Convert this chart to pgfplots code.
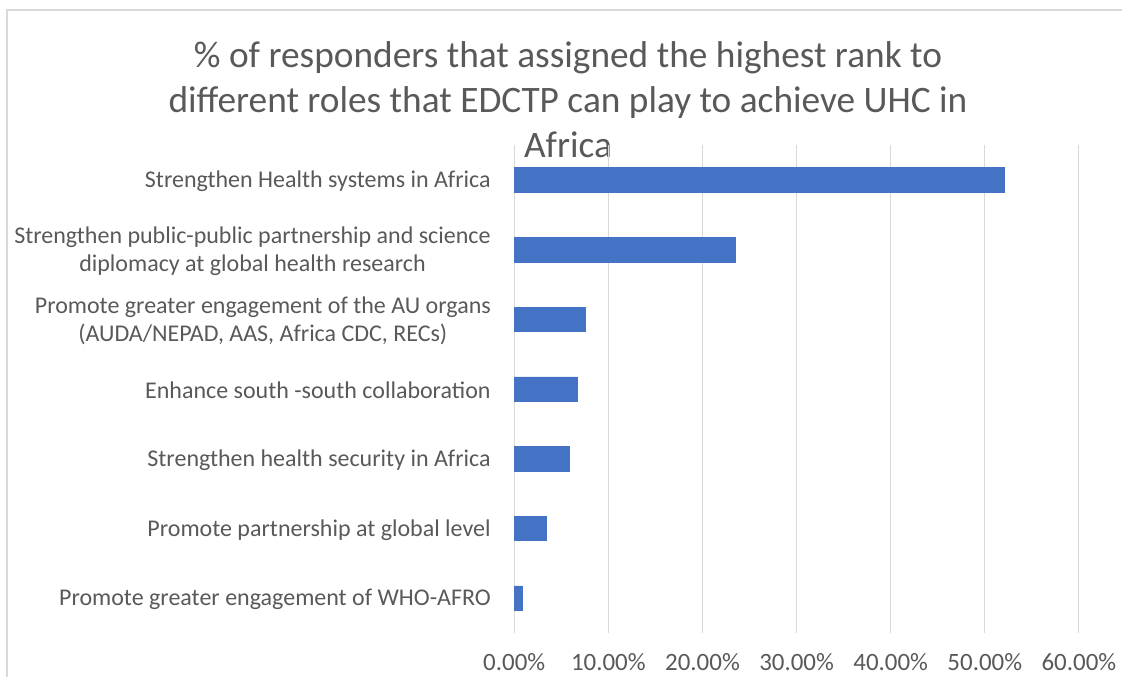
\documentclass[border=0pt]{standalone}
\usepackage{pgfplots}
\pgfplotsset{compat=1.18}
\usepackage{fontspec}
\setmainfont{Carlito}
\definecolor{txt}{HTML}{595959}
\definecolor{grd}{HTML}{D9D9D9}
\definecolor{bar}{HTML}{4472C4}
\begin{document}
\begin{tikzpicture}
\useasboundingbox (0,0) rectangle (841.5pt,507.75pt);
% chart frame (clipped by picture edges)
\draw[grd, line width=0.9pt] (5.25pt,-50pt) -- (5.25pt,500.25pt) -- (900pt,500.25pt);
% title
\node[anchor=base, text=txt, font=\fontsize{28}{32}\selectfont, inner sep=0pt] at (426pt,456.75pt) {\% of responders that assigned the highest rank to};
\node[anchor=base, text=txt, font=\fontsize{28}{32}\selectfont, inner sep=0pt] at (426pt,423pt) {different roles that EDCTP can play to achieve UHC in};
\node[anchor=base, text=txt, font=\fontsize{28}{32}\selectfont, inner sep=0pt] at (426pt,389.25pt) {Africa};
\begin{axis}[
  at={(385.7pt,33pt)}, anchor=south west,
  scale only axis, width=423.5pt, height=366pt,
  xbar, bar width=18.3pt,
  xmin=0, xmax=60, ymin=-0.5, ymax=6.5, y dir=reverse,
  xtick={0,10,...,60},
  xmajorgrids, grid style={grd, line width=0.75pt},
  axis line style={draw=none},
  major tick length=0pt,
  ytick={0,...,6},
  yticklabels={
    {Strengthen Health systems in Africa},
    {Strengthen public-public partnership and science\\diplomacy at global health research},
    {Promote greater engagement of the AU organs\\(AUDA/NEPAD, AAS, Africa CDC, RECs)},
    {Enhance south -south collaboration},
    {Strengthen health security in Africa},
    {Promote partnership at global level},
    {Promote greater engagement of WHO-AFRO}},
  yticklabel style={anchor=east, align=center, inner sep=0pt, xshift=-17.5pt, yshift=-1pt, text=txt, font=\fontsize{18}{21}\selectfont},
  xticklabel style={anchor=base, inner sep=0pt, yshift=-28.5pt, text=txt, font=\fontsize{18.7}{22}\selectfont},
  /pgf/number format/assume math mode=true,
  xticklabel={\pgfmathprintnumber[fixed,fixed zerofill,precision=2]{\tick}\%},
  clip=false,
]
\addplot[fill=bar, draw=bar, line width=0.4pt] coordinates {
  (52.1,0) (23.5,1) (7.55,2) (6.7,3) (5.85,4) (3.35,5) (0.8,6)};
\end{axis}
\end{tikzpicture}
\end{document}
